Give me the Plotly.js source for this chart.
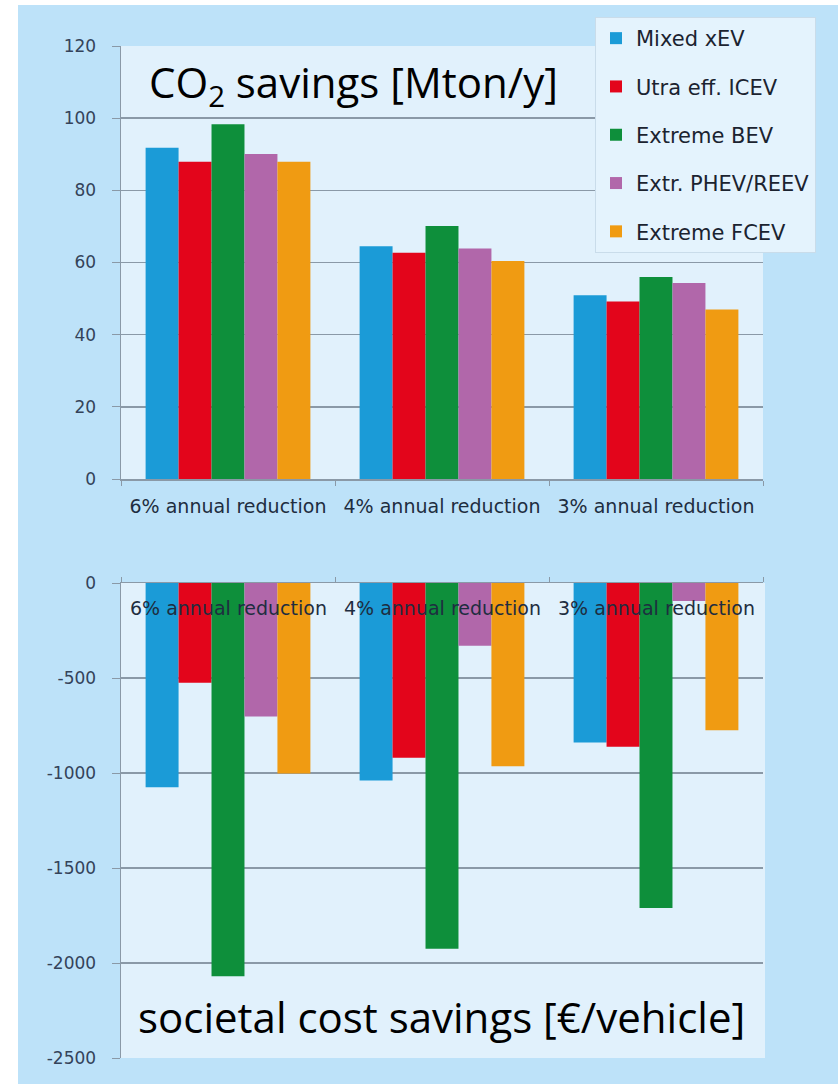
<!DOCTYPE html>
<html>
<head>
<meta charset="utf-8">
<script src="https://cdn.plot.ly/plotly-3.0.1.min.js"></script>
<style>html,body{margin:0;padding:0;background:#fff;}#chart{width:838px;height:1084px;}</style>
</head>
<body>
<div id="chart"></div>
<script>
// ---- data ----
const categories = ["6% annual reduction", "4% annual reduction", "3% annual reduction"];
const seriesNames = ["Mixed xEV", "Utra eff. ICEV", "Extreme BEV", "Extr. PHEV/REEV", "Extreme FCEV"];
const seriesColors = ["#1b9bd7", "#e3051b", "#0e8f3b", "#b167aa", "#f09b12"];
// CO2 savings [Mton/y]
const co2Mixed = [91.8, 64.5, 50.9];
const co2Icev  = [87.9, 62.7, 49.2];
const co2Bev   = [98.3, 70.1, 56.0];
const co2Phev  = [90.1, 63.9, 54.3];
const co2Fcev  = [87.9, 60.4, 47.0];
// societal cost savings [EUR/vehicle]
const costMixed = [-1075, -1040, -840];
const costIcev  = [-525, -920, -862];
const costBev   = [-2070, -1925, -1710];
const costPhev  = [-702, -330, -95];
const costFcev  = [-1003, -965, -775];
// tick labels
const co2Ticks = [0, 20, 40, 60, 80, 100, 120];
const costTicks = [0, -500, -1000, -1500, -2000, -2500];
const costTickText = ["0", "-500", "-1000", "-1500", "-2000", "-2500"];

const co2Series = [co2Mixed, co2Icev, co2Bev, co2Phev, co2Fcev];
const costSeries = [costMixed, costIcev, costBev, costPhev, costFcev];

const W = 838, H = 1084;
const xDom = [121 / W, 763 / W];
const yTop = [1 - 479 / H, 1 - 46 / H];
const yBot = [1 - 1058 / H, 1 - 583 / H];

const traces = [];
seriesNames.forEach((name, i) => {
  traces.push({
    type: "bar", name: name, x: categories, y: co2Series[i],
    xaxis: "x", yaxis: "y", marker: {color: seriesColors[i]},
    legendgroup: "g" + i, showlegend: true, hoverinfo: "none"
  });
});
seriesNames.forEach((name, i) => {
  traces.push({
    type: "bar", name: name, x: categories, y: costSeries[i],
    xaxis: "x2", yaxis: "y2", marker: {color: seriesColors[i]},
    legendgroup: "g" + i, showlegend: false, hoverinfo: "none"
  });
});

const gridC = "#8a99a7";
const tickFont = {family: "DejaVu Sans, sans-serif", size: 17, color: "#34435a"};
const catFont = {family: "DejaVu Sans, sans-serif", size: 19, color: "#1e2d40"};

const layout = {
  width: W, height: H,
  margin: {l: 0, r: 0, t: 0, b: 0},
  paper_bgcolor: "#ffffff",
  plot_bgcolor: "rgba(0,0,0,0)",
  barmode: "group", bargap: 0.23, bargroupgap: 0,
  showlegend: true,
  legend: {
    x: 595 / W, y: 1 - 17 / H, xanchor: "left", yanchor: "top",
    bgcolor: "#e4f3fd", bordercolor: "#c9dcea", borderwidth: 1,
    font: {family: "DejaVu Sans, Verdana, sans-serif", size: 21, color: "#1b2330"},
    traceorder: "grouped", tracegroupgap: 18, itemclick: false, itemdoubleclick: false
  },
  xaxis: {
    domain: xDom, anchor: "y", type: "category",
    tickson: "boundaries", ticks: "outside", ticklen: 5, tickcolor: gridC,
    showline: true, linecolor: gridC, linewidth: 1.5, showgrid: false,
    tickfont: catFont, ticklabelstandoff: 10, fixedrange: true
  },
  yaxis: {
    domain: yTop, anchor: "x", range: [0, 120], tickvals: co2Ticks,
    showgrid: true, gridcolor: gridC, gridwidth: 1.5, zeroline: false,
    showline: true, linecolor: gridC, linewidth: 1.5,
    ticks: "outside", ticklen: 8, tickcolor: gridC, tickfont: tickFont,
    ticklabelstandoff: 12, fixedrange: true
  },
  xaxis2: {
    domain: xDom, anchor: "y2", type: "category", side: "top",
    tickson: "boundaries", ticks: "outside", ticklen: 5, tickcolor: gridC,
    showline: true, linecolor: gridC, linewidth: 1.5, showgrid: false,
    showticklabels: false, fixedrange: true
  },
  yaxis2: {
    domain: yBot, anchor: "x2", range: [-2500, 0],
    tickvals: costTicks, ticktext: costTickText,
    showgrid: true, gridcolor: gridC, gridwidth: 1.5, zeroline: false,
    showline: true, linecolor: gridC, linewidth: 1.5,
    ticks: "outside", ticklen: 8, tickcolor: gridC, tickfont: tickFont,
    ticklabelstandoff: 12, fixedrange: true
  },
  shapes: [
    {type: "rect", xref: "paper", yref: "paper", x0: 18 / W, x1: 1, y0: 0, y1: 1 - 5 / H,
     fillcolor: "#bde2f9", line: {width: 0}, layer: "below"},
    {type: "rect", xref: "paper", yref: "paper", x0: xDom[0], x1: xDom[1], y0: yTop[0], y1: yTop[1],
     fillcolor: "#e1f1fc", line: {width: 0}, layer: "below"},
    {type: "rect", xref: "paper", yref: "paper", x0: xDom[0], x1: 765 / W, y0: yBot[0], y1: yBot[1],
     fillcolor: "#e1f1fc", line: {width: 0}, layer: "below"}
  ],
  annotations: [
    {text: "CO<sub>2</sub> savings [Mton/y]", xref: "paper", yref: "paper",
     x: 353 / W, y: 1 - 84 / H, xanchor: "center", yanchor: "middle", showarrow: false,
     font: {family: "Open Sans, Noto Sans, sans-serif", size: 42, color: "#000000"}},
    {text: "societal cost savings [€/vehicle]", xref: "paper", yref: "paper",
     x: 441 / W, y: 1 - 1016 / H, xanchor: "center", yanchor: "middle", showarrow: false,
     font: {family: "Open Sans, Noto Sans, sans-serif", size: 42, color: "#000000"}}
  ].concat(categories.map(c => ({
    text: c, xref: "x2", yref: "y2", x: c, y: 0, xanchor: "center", yanchor: "top",
    yshift: -12, showarrow: false, font: catFont
  })))
};

Plotly.newPlot("chart", traces, layout, {displayModeBar: false, staticPlot: true});
</script>
</body>
</html>
